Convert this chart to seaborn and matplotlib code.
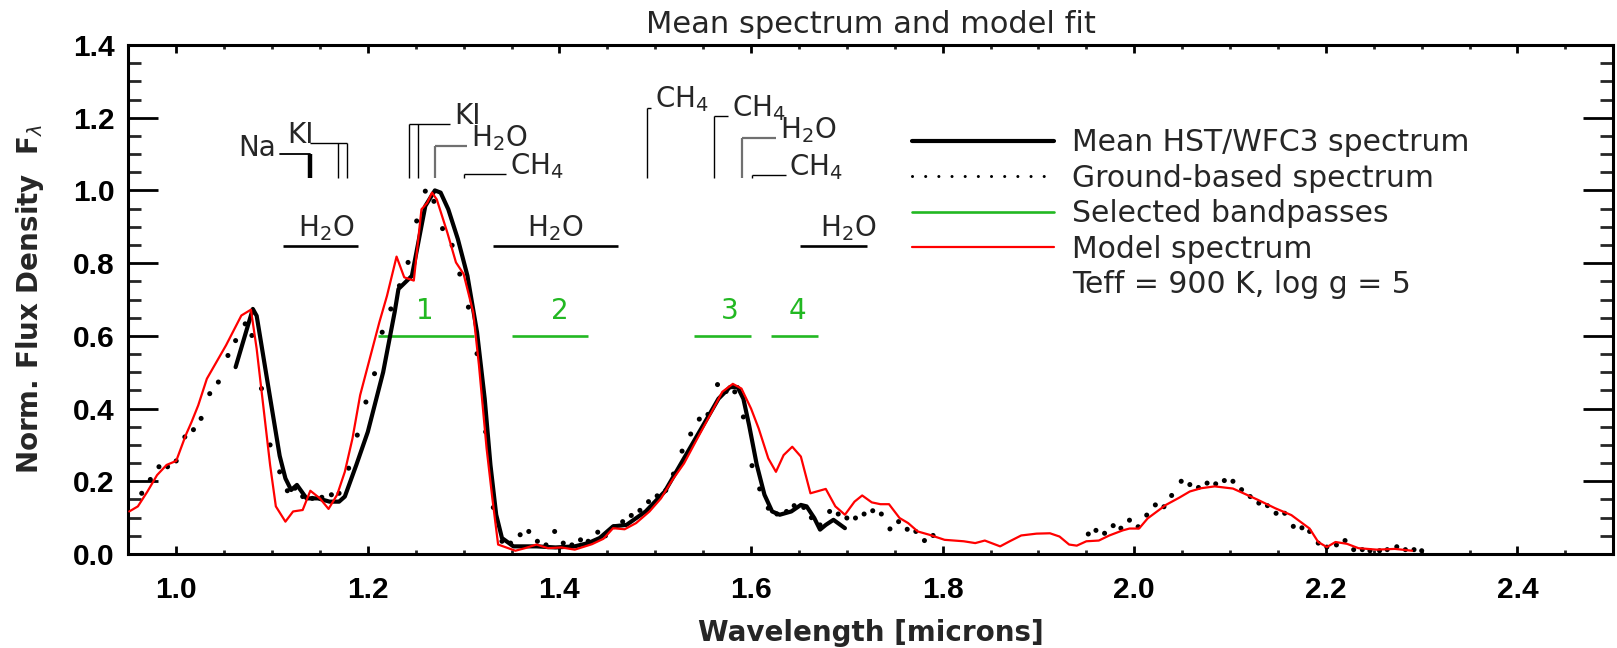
import matplotlib
matplotlib.use("Agg")
import matplotlib.pyplot as plt
from matplotlib.lines import Line2D
from matplotlib.ticker import MultipleLocator, FormatStrFormatter
import seaborn as sns

# ---------------------------------------------------------------- data
# Mean HST/WFC3 spectrum
hst_wave = [1.062, 1.080, 1.084, 1.098, 1.108, 1.114, 1.120, 1.126, 1.136, 1.148,
            1.160, 1.170, 1.176, 1.188, 1.200, 1.216, 1.228, 1.232, 1.246, 1.252,
            1.260, 1.270, 1.276, 1.284, 1.294, 1.304, 1.314, 1.322, 1.328, 1.334,
            1.340, 1.352, 1.376, 1.396, 1.416, 1.430, 1.442, 1.456, 1.470, 1.490,
            1.510, 1.530, 1.550, 1.566, 1.578, 1.586, 1.592, 1.598, 1.606, 1.614,
            1.622, 1.630, 1.642, 1.652, 1.658, 1.666, 1.672, 1.678, 1.686, 1.698]
hst_flux = [0.514, 0.674, 0.655, 0.430, 0.270, 0.208, 0.176, 0.190, 0.153, 0.153,
            0.144, 0.144, 0.158, 0.245, 0.336, 0.500, 0.665, 0.729, 0.765, 0.847,
            0.957, 1.000, 0.994, 0.948, 0.866, 0.765, 0.610, 0.427, 0.245, 0.108,
            0.044, 0.021, 0.021, 0.018, 0.021, 0.030, 0.044, 0.076, 0.080, 0.117,
            0.172, 0.263, 0.354, 0.427, 0.459, 0.459, 0.427, 0.354, 0.245, 0.163,
            0.117, 0.108, 0.117, 0.135, 0.131, 0.099, 0.067, 0.080, 0.094, 0.071]

# Ground-based spectrum
ground_wave = [0.964, 0.973, 0.982, 0.991, 1.000, 1.009, 1.018, 1.026, 1.035, 1.044,
               1.054, 1.062, 1.072, 1.079, 1.089, 1.098, 1.108, 1.116, 1.124, 1.132,
               1.142, 1.152, 1.162, 1.170, 1.180, 1.189, 1.198, 1.207, 1.215, 1.224,
               1.233, 1.242, 1.251, 1.260, 1.269, 1.278, 1.288, 1.296, 1.305, 1.314,
               1.323, 1.331, 1.340, 1.349, 1.359, 1.368, 1.377, 1.386, 1.395, 1.404,
               1.413, 1.422, 1.430, 1.440, 1.448, 1.457, 1.466, 1.475, 1.484, 1.493,
               1.502, 1.511, 1.519, 1.528, 1.537, 1.546, 1.555, 1.565, 1.574, 1.583,
               1.592, 1.601, 1.609, 1.618, 1.627, 1.637, 1.645, 1.655, 1.663, 1.672,
               1.682, 1.691, 1.700, 1.709, 1.718, 1.727, 1.736, 1.745, 1.754, 1.763,
               1.772, 1.781, 1.790,
               1.952, 1.960, 1.969, 1.978, 1.986, 1.995, 2.004, 2.013, 2.022, 2.031,
               2.039, 2.049, 2.058, 2.067, 2.076, 2.085, 2.094, 2.103, 2.112, 2.121,
               2.130, 2.139, 2.148, 2.157, 2.166, 2.175, 2.183, 2.192, 2.201, 2.211,
               2.220, 2.229, 2.238, 2.246, 2.256, 2.264, 2.274, 2.283, 2.292, 2.300]
ground_flux = [0.167, 0.205, 0.240, 0.240, 0.256, 0.322, 0.342, 0.373, 0.441, 0.473,
               0.546, 0.587, 0.633, 0.601, 0.455, 0.300, 0.226, 0.174, 0.181, 0.158,
               0.153, 0.156, 0.163, 0.167, 0.236, 0.327, 0.418, 0.496, 0.610, 0.674,
               0.738, 0.802, 0.916, 0.998, 0.970, 0.895, 0.849, 0.770, 0.679, 0.551,
               0.336, 0.128, 0.035, 0.030, 0.053, 0.062, 0.035, 0.025, 0.062, 0.030,
               0.025, 0.039, 0.035, 0.060, 0.050, 0.075, 0.089, 0.106, 0.120, 0.144,
               0.160, 0.175, 0.220, 0.283, 0.330, 0.371, 0.384, 0.466, 0.447, 0.446,
               0.377, 0.243, 0.179, 0.126, 0.110, 0.117, 0.133, 0.128, 0.100, 0.080,
               0.117, 0.110, 0.099, 0.099, 0.110, 0.119, 0.110, 0.069, 0.089, 0.068,
               0.062, 0.037, 0.051,
               0.055, 0.065, 0.057, 0.078, 0.071, 0.093, 0.075, 0.107, 0.135, 0.130,
               0.161, 0.200, 0.191, 0.183, 0.195, 0.193, 0.202, 0.200, 0.177, 0.158,
               0.140, 0.133, 0.112, 0.112, 0.076, 0.072, 0.062, 0.030, 0.019, 0.025,
               0.037, 0.012, 0.012, 0.009, 0.009, 0.012, 0.020, 0.012, 0.012, 0.009]

# Model spectrum, Teff = 900 K, log g = 5
model_wave = [0.951, 0.960, 0.970, 0.980, 0.990, 1.000, 1.010, 1.016, 1.023, 1.032,
              1.042, 1.052, 1.060, 1.068, 1.078, 1.084, 1.092, 1.098, 1.104, 1.114,
              1.122, 1.132, 1.140, 1.150, 1.159, 1.168, 1.176, 1.184, 1.192, 1.202,
              1.212, 1.220, 1.230, 1.238, 1.248, 1.256, 1.262, 1.267, 1.272, 1.283,
              1.292, 1.300, 1.310, 1.316, 1.324, 1.330, 1.336, 1.354, 1.364, 1.376,
              1.388, 1.402, 1.416, 1.434, 1.446, 1.456, 1.468, 1.480, 1.494, 1.506,
              1.518, 1.530, 1.544, 1.558, 1.570, 1.581, 1.590, 1.600, 1.608, 1.618,
              1.626, 1.634, 1.643, 1.652, 1.662, 1.678, 1.688, 1.698, 1.708, 1.716,
              1.726, 1.735, 1.744, 1.755, 1.764, 1.774, 1.786, 1.802, 1.822, 1.834,
              1.844, 1.860, 1.870, 1.882, 1.898, 1.912, 1.922, 1.932, 1.940, 1.950,
              1.963, 1.974, 1.988, 1.995, 2.005, 2.014, 2.033, 2.047, 2.058, 2.070,
              2.084, 2.103, 2.114, 2.129, 2.147, 2.164, 2.183, 2.192, 2.201, 2.210,
              2.222, 2.234, 2.253, 2.272, 2.290]
model_flux = [0.117, 0.131, 0.172, 0.217, 0.245, 0.256, 0.327, 0.363, 0.409, 0.482,
              0.528, 0.574, 0.615, 0.656, 0.672, 0.564, 0.382, 0.245, 0.131, 0.089,
              0.117, 0.121, 0.174, 0.153, 0.124, 0.163, 0.226, 0.318, 0.437, 0.537,
              0.637, 0.710, 0.818, 0.761, 0.752, 0.948, 0.966, 0.994, 0.975, 0.884,
              0.802, 0.770, 0.665, 0.519, 0.290, 0.153, 0.026, 0.009, 0.016, 0.026,
              0.016, 0.018, 0.012, 0.027, 0.042, 0.071, 0.068, 0.085, 0.117, 0.153,
              0.204, 0.249, 0.318, 0.386, 0.446, 0.468, 0.455, 0.400, 0.345, 0.263,
              0.226, 0.272, 0.295, 0.268, 0.167, 0.179, 0.131, 0.108, 0.144, 0.161,
              0.142, 0.137, 0.137, 0.099, 0.085, 0.062, 0.053, 0.039, 0.035, 0.030,
              0.037, 0.021, 0.035, 0.051, 0.056, 0.057, 0.048, 0.026, 0.023, 0.035,
              0.037, 0.051, 0.065, 0.070, 0.070, 0.098, 0.135, 0.155, 0.172, 0.181,
              0.186, 0.180, 0.167, 0.149, 0.126, 0.107, 0.070, 0.033, 0.019, 0.033,
              0.028, 0.016, 0.012, 0.014, 0.009]

# Selected bandpasses
band_names = ["1", "2", "3", "4"]
band_start = [1.211, 1.351, 1.540, 1.621]
band_end = [1.311, 1.430, 1.600, 1.670]
band_level = 0.60

# Broad H2O absorption bands
h2o_band_start = [1.111, 1.331, 1.651]
h2o_band_end = [1.190, 1.461, 1.721]
h2o_band_level = 0.847

# Atomic / molecular feature wavelengths
na_wave = [1.140]
ki_wave_1 = [1.169, 1.178]
ki_wave_2 = [1.243, 1.252]

legend_labels = ["Mean HST/WFC3 spectrum", "Ground-based spectrum",
                 "Selected bandpasses", "Model spectrum",
                 "Teff = 900 K, log g = 5"]

# ---------------------------------------------------------------- style
sns.set_theme(style="ticks")
plt.rcParams["font.family"] = ["DejaVu Sans"]
plt.rcParams["mathtext.fontset"] = "dejavusans"

GREEN = "#22b822"
FS = 21.5
FS_ANN = 20

fig = plt.figure(figsize=(16.17, 6.48), dpi=100)
W, H = 1617, 648
left, right, top, bottom = 128.3, 1613.3, 45.0, 554.0
ax = fig.add_axes([left / W, 1 - bottom / H, (right - left) / W, (bottom - top) / H])
ax.set_facecolor("white")

# ---------------------------------------------------------------- spectra
sns.lineplot(x=hst_wave, y=hst_flux, ax=ax, color="black", linewidth=3.0,
             sort=False, estimator=None, zorder=3)
sns.scatterplot(x=ground_wave, y=ground_flux, ax=ax, color="black", s=13,
                edgecolor="none", linewidth=0, zorder=4)
sns.lineplot(x=model_wave, y=model_flux, ax=ax, color="red", linewidth=1.6,
             sort=False, estimator=None, zorder=5)

# ---------------------------------------------------------------- bandpasses
ax.hlines([band_level] * len(band_start), band_start, band_end,
          color=GREEN, linewidth=1.9, zorder=2)
label_shift = [-0.002, 0.010, 0.008, 0.003]
for name, a, b, dx in zip(band_names, band_start, band_end, label_shift):
    ax.text((a + b) / 2 + dx, band_level + 0.045, name, color=GREEN,
            fontsize=FS_ANN, ha="center", va="baseline")

# H2O absorption bands
ax.hlines([h2o_band_level] * len(h2o_band_start), h2o_band_start, h2o_band_end,
          color="black", linewidth=1.9, zorder=2)
h2o_label_shift = [0.006, 0.0, 0.015]
for a, b, dx in zip(h2o_band_start, h2o_band_end, h2o_label_shift):
    ax.text((a + b) / 2 + dx, h2o_band_level + 0.028, "H$_2$O",
            fontsize=FS_ANN, ha="center", va="baseline")

# ---------------------------------------------------------------- line IDs
base = 1.033
thin = dict(color="black", linewidth=1.0, solid_capstyle="butt")
grey = dict(color="#707070", linewidth=1.6, solid_capstyle="butt")

def feature(xs, top_y, x_text, label, style=thin, bar_from=None, bar_to=None):
    for xv in xs:
        ax.plot([xv, xv], [base, top_y], **style)
    x0 = min(xs) if bar_from is None else bar_from
    x1 = x_text - 0.004 if bar_to is None else bar_to
    ax.plot([x0, x1], [top_y, top_y], **style)
    ax.text(x_text, top_y, label, fontsize=FS_ANN, ha="left", va="baseline")

# Na doublet (heavy mark)
na_top = 1.099
ax.plot([na_wave[0], na_wave[0]], [base, na_top], color="black", linewidth=3.2,
        solid_capstyle="butt")
ax.plot([1.108, na_wave[0]], [na_top, na_top], color="black", linewidth=1.3)
ax.text(1.104, na_top - 0.005, "Na", fontsize=FS_ANN, ha="right", va="baseline")

# K I doublets
feature(ki_wave_1, 1.131, 1.116, "KI", bar_from=1.140, bar_to=max(ki_wave_1))
feature(ki_wave_2, 1.184, 1.290, "KI")
# molecular band heads
feature([1.270], 1.121, 1.308, "H$_2$O", style=grey)
feature([1.300], 1.044, 1.348, "CH$_4$")
feature([1.491], 1.228, 1.500, "CH$_4$")
feature([1.561], 1.205, 1.580, "CH$_4$")
feature([1.591], 1.143, 1.630, "H$_2$O", style=grey)
feature([1.601], 1.042, 1.640, "CH$_4$")

# ---------------------------------------------------------------- legend
handles = [
    Line2D([], [], color="black", linewidth=3.0),
    Line2D([], [], color="black", linewidth=2.2, linestyle=(0, (0.01, 4.3)),
           dash_capstyle="round"),
    Line2D([], [], color=GREEN, linewidth=1.9),
    Line2D([], [], color="red", linewidth=1.6),
    Line2D([], [], color="none"),
]
leg = ax.legend(handles, legend_labels, loc="upper left",
                bbox_to_anchor=((912 - left) / (right - left), (bottom - 128.0) / (bottom - top)),
                frameon=False, fontsize=FS, handlelength=4.75, handletextpad=0.62,
                labelspacing=0.22, borderpad=0, borderaxespad=0)

# ---------------------------------------------------------------- axes
ax.set_xlim(0.95, 2.5)
ax.set_ylim(0.0, 1.4)
ax.xaxis.set_major_locator(MultipleLocator(0.2))
ax.xaxis.set_minor_locator(MultipleLocator(0.05))
ax.yaxis.set_major_locator(MultipleLocator(0.2))
ax.yaxis.set_minor_locator(MultipleLocator(0.05))
ax.xaxis.set_major_formatter(FormatStrFormatter("%.1f"))
ax.yaxis.set_major_formatter(FormatStrFormatter("%.1f"))

for sp in ax.spines.values():
    sp.set_visible(True)
    sp.set_linewidth(2.2)
    sp.set_color("black")

ax.tick_params(axis="x", which="major", direction="in", length=6, width=2.0,
               top=True, bottom=True, pad=16, labelsize=FS, colors="black")
ax.tick_params(axis="x", which="minor", direction="in", length=3.2, width=2.0,
               top=True, bottom=True)
ax.tick_params(axis="y", which="major", direction="in", length=21.5, width=2.0,
               left=True, right=True, pad=10, labelsize=FS, colors="black")
ax.tick_params(axis="y", which="minor", direction="in", length=9.5, width=2.0,
               left=True, right=True)
for lab in ax.get_xticklabels() + ax.get_yticklabels():
    lab.set_fontfamily("Liberation Sans")
    lab.set_fontweight("bold")

ax.set_xlabel("Wavelength [microns]", fontsize=20, fontweight="bold")
ax.xaxis.set_label_coords(0.5, -0.128)
ax.xaxis.label.set_verticalalignment("top")
ax.set_ylabel("Norm. Flux Density  F$_\\lambda$", fontsize=20, fontweight="bold")
ax.yaxis.set_label_coords(-0.066, 0.5)
ax.yaxis.label.set_verticalalignment("center")
ax.set_title("Mean spectrum and model fit", fontsize=22, pad=8.6)

fig.savefig("out.png", dpi=100, facecolor="white")
